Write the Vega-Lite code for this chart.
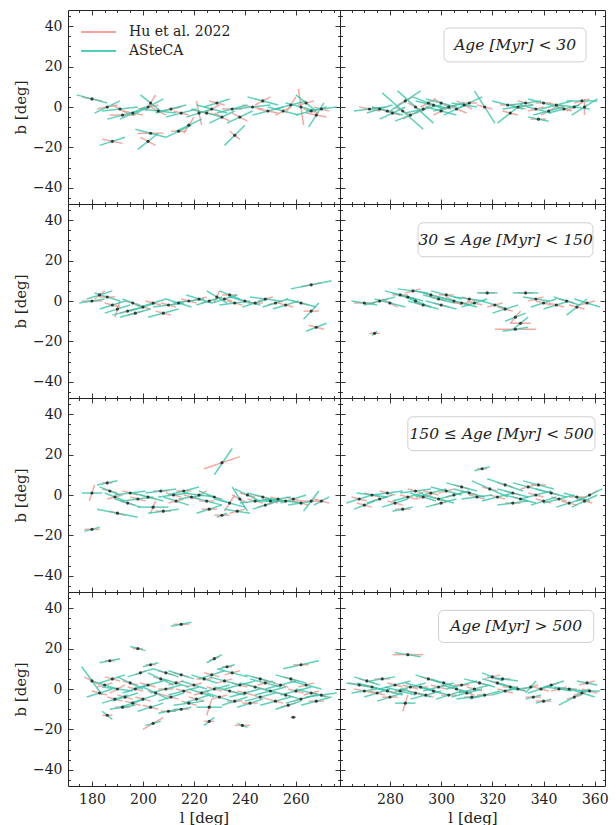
{
"$schema": "https://vega.github.io/schema/vega-lite/v6.json",
"background": "white",
"padding": {"left": 12, "top": 9, "right": 6, "bottom": 3},
"config": {
 "view": {"stroke": "#222", "strokeWidth": 1},
 "font": "DejaVu Serif",
 "axis": {"domain": false, "grid": false, "tickColor": "#222", "tickSize": -5, "tickWidth": 0.9, "labelFont": "DejaVu Serif", "labelFontSize": 14, "labelColor": "#222", "labelPadding": 11, "labelFlush": false, "labelOverlap": false, "titleFont": "DejaVu Serif", "titleFontSize": 15, "titleFontWeight": "normal", "titleColor": "#222", "titlePadding": 4},
 "legend": {"orient": "top-left", "offset": 10, "padding": 0, "symbolType": "M-0.82,0H2.41", "symbolSize": 470, "symbolStrokeWidth": 2, "symbolOpacity": 0.85, "labelFont": "DejaVu Serif", "labelFontSize": 14, "labelColor": "#222", "labelOffset": 27, "rowPadding": 0}
},
"datasets": {"d": [
{"p":1,"l":180,"b":4,"hx":176,"hy":5,"hX":184,"hY":3,"ax":174,"ay":6,"aX":186,"aY":2},
{"p":1,"l":186,"b":0,"hx":182,"hy":-1,"hX":190,"hY":1,"ax":181,"ay":-3,"aX":191,"aY":3},
{"p":1,"l":191,"b":-1,"hx":188,"hy":1,"hX":194,"hY":-3,"ax":184,"ay":-2,"aX":198,"aY":0},
{"p":1,"l":192,"b":-4,"hx":187,"hy":-4,"hX":197,"hY":-4,"ax":186,"ay":-6,"aX":198,"aY":-2},
{"p":1,"l":196,"b":-3,"hx":192,"hy":-2,"hX":200,"hY":-4,"ax":191,"ay":-6,"aX":201,"aY":0},
{"p":1,"l":202,"b":0,"hx":198,"hy":-1,"hX":206,"hY":1,"ax":196,"ay":-4,"aX":208,"aY":4},
{"p":1,"l":203,"b":2,"hx":201,"hy":-2,"hX":205,"hY":6,"ax":199,"ay":6,"aX":207,"aY":-2},
{"p":1,"l":206,"b":-2,"hx":203,"hy":0,"hX":209,"hY":-4,"ax":199,"ay":-1,"aX":213,"aY":-3},
{"p":1,"l":211,"b":-1,"hx":207,"hy":-2,"hX":215,"hY":0,"ax":205,"ay":-3,"aX":217,"aY":1},
{"p":1,"l":203,"b":-13,"hx":198,"hy":-13,"hX":208,"hY":-13,"ax":197,"ay":-11,"aX":209,"aY":-15},
{"p":1,"l":202,"b":-17,"hx":199,"hy":-15,"hX":205,"hY":-19,"ax":198,"ay":-21,"aX":206,"aY":-13},
{"p":1,"l":188,"b":-17,"hx":184,"hy":-16,"hX":192,"hY":-18,"ax":183,"ay":-19,"aX":193,"aY":-15},
{"p":1,"l":214,"b":-12,"hx":211,"hy":-12,"hX":217,"hY":-12,"ax":209,"ay":-15,"aX":219,"aY":-9},
{"p":1,"l":218,"b":-9,"hx":216,"hy":-13,"hX":220,"hY":-5,"ax":213,"ay":-12,"aX":223,"aY":-6},
{"p":1,"l":222,"b":-3,"hx":221,"hy":3,"hX":223,"hY":-9,"ax":217,"ay":-5,"aX":227,"aY":-1},
{"p":1,"l":225,"b":-3,"hx":221,"hy":-2,"hX":229,"hY":-4,"ax":219,"ay":-1,"aX":231,"aY":-5},
{"p":1,"l":229,"b":2,"hx":226,"hy":3,"hX":232,"hY":1,"ax":224,"ay":0,"aX":234,"aY":4},
{"p":1,"l":231,"b":-5,"hx":228,"hy":-3,"hX":234,"hY":-7,"ax":226,"ay":-8,"aX":236,"aY":-2},
{"p":1,"l":236,"b":-14,"hx":234,"hy":-12,"hX":238,"hY":-16,"ax":232,"ay":-19,"aX":240,"aY":-9},
{"p":1,"l":235,"b":-1,"hx":231,"hy":-1,"hX":239,"hY":-1,"ax":229,"ay":-3,"aX":241,"aY":1},
{"p":1,"l":238,"b":-5,"hx":235,"hy":-3,"hX":241,"hY":-7,"ax":233,"ay":-8,"aX":243,"aY":-2},
{"p":1,"l":243,"b":0,"hx":239,"hy":1,"hX":247,"hY":-1,"ax":236,"ay":-1,"aX":250,"aY":1},
{"p":1,"l":247,"b":3,"hx":244,"hy":1,"hX":250,"hY":5,"ax":241,"ay":5,"aX":253,"aY":1},
{"p":1,"l":249,"b":-2,"hx":245,"hy":-1,"hX":253,"hY":-3,"ax":243,"ay":-4,"aX":255,"aY":0},
{"p":1,"l":255,"b":-2,"hx":252,"hy":-4,"hX":258,"hY":0,"ax":249,"ay":0,"aX":261,"aY":-4},
{"p":1,"l":258,"b":1,"hx":256,"hy":-3,"hX":260,"hY":5,"ax":252,"ay":-1,"aX":264,"aY":3},
{"p":1,"l":262,"b":0,"hx":261,"hy":9,"hX":263,"hY":-9,"ax":256,"ay":2,"aX":268,"aY":-2},
{"p":1,"l":264,"b":2,"hx":261,"hy":1,"hX":267,"hY":3,"ax":260,"ay":6,"aX":268,"aY":-2},
{"p":1,"l":266,"b":-2,"hx":263,"hy":-1,"hX":269,"hY":-3,"ax":260,"ay":-4,"aX":272,"aY":0},
{"p":1,"l":268,"b":-4,"hx":264,"hy":-3,"hX":272,"hY":-5,"ax":265,"ay":-10,"aX":271,"aY":2},
{"p":1,"l":270,"b":-1,"hx":267,"hy":0,"hX":273,"hY":-2,"ax":264,"ay":-2,"aX":276,"aY":0},
{"p":1,"l":227,"b":-1,"hx":224,"hy":-3,"hX":230,"hY":1,"ax":221,"ay":1,"aX":233,"aY":-3},
{"p":1,"l":215,"b":-3,"hx":212,"hy":-2,"hX":218,"hY":-4,"ax":209,"ay":-5,"aX":221,"aY":-1},
{"p":2,"l":272,"b":-1,"hx":268,"hy":0,"hX":276,"hY":-2,"ax":266,"ay":-2,"aX":278,"aY":0},
{"p":2,"l":279,"b":-2,"hx":276,"hy":-1,"hX":282,"hY":-3,"ax":273,"ay":0,"aX":285,"aY":-4},
{"p":2,"l":285,"b":-2,"hx":282,"hy":0,"hX":288,"hY":-4,"ax":277,"ay":7,"aX":293,"aY":-11},
{"p":2,"l":290,"b":0,"hx":287,"hy":2,"hX":293,"hY":-2,"ax":283,"ay":8,"aX":297,"aY":-8},
{"p":2,"l":281,"b":-3,"hx":278,"hy":-2,"hX":284,"hY":-4,"ax":276,"ay":-6,"aX":286,"aY":0},
{"p":2,"l":293,"b":-1,"hx":290,"hy":-3,"hX":296,"hY":1,"ax":286,"ay":-3,"aX":300,"aY":1},
{"p":2,"l":297,"b":1,"hx":294,"hy":2,"hX":300,"hY":0,"ax":290,"ay":3,"aX":304,"aY":-1},
{"p":2,"l":300,"b":2,"hx":297,"hy":4,"hX":303,"hY":0,"ax":294,"ay":4,"aX":306,"aY":0},
{"p":2,"l":303,"b":0,"hx":300,"hy":-1,"hX":306,"hY":1,"ax":297,"ay":-2,"aX":309,"aY":2},
{"p":2,"l":306,"b":-1,"hx":302,"hy":1,"hX":310,"hY":-3,"ax":301,"ay":-4,"aX":311,"aY":2},
{"p":2,"l":309,"b":1,"hx":306,"hy":3,"hX":312,"hY":-1,"ax":304,"ay":2,"aX":314,"aY":0},
{"p":2,"l":311,"b":2,"hx":308,"hy":2,"hX":314,"hY":2,"ax":306,"ay":-1,"aX":316,"aY":5},
{"p":2,"l":317,"b":0,"hx":314,"hy":1,"hX":320,"hY":-1,"ax":313,"ay":8,"aX":321,"aY":-8},
{"p":2,"l":327,"b":-3,"hx":324,"hy":-2,"hX":330,"hY":-4,"ax":322,"ay":-8,"aX":332,"aY":2},
{"p":2,"l":330,"b":0,"hx":327,"hy":1,"hX":333,"hY":-1,"ax":324,"ay":-1,"aX":336,"aY":1},
{"p":2,"l":333,"b":2,"hx":330,"hy":3,"hX":336,"hY":1,"ax":327,"ay":1,"aX":339,"aY":3},
{"p":2,"l":337,"b":-1,"hx":334,"hy":-2,"hX":340,"hY":0,"ax":331,"ay":1,"aX":343,"aY":-3},
{"p":2,"l":338,"b":-6,"hx":335,"hy":-6,"hX":341,"hY":-6,"ax":334,"ay":-5,"aX":342,"aY":-7},
{"p":2,"l":342,"b":-2,"hx":339,"hy":-4,"hX":345,"hY":0,"ax":336,"ay":-4,"aX":348,"aY":0},
{"p":2,"l":345,"b":1,"hx":342,"hy":2,"hX":348,"hY":0,"ax":339,"ay":-1,"aX":351,"aY":3},
{"p":2,"l":348,"b":-1,"hx":345,"hy":0,"hX":351,"hY":-2,"ax":342,"ay":-3,"aX":354,"aY":1},
{"p":2,"l":352,"b":0,"hx":349,"hy":-2,"hX":355,"hY":2,"ax":346,"ay":1,"aX":358,"aY":-1},
{"p":2,"l":355,"b":3,"hx":352,"hy":2,"hX":358,"hY":4,"ax":349,"ay":3,"aX":361,"aY":3},
{"p":2,"l":356,"b":0,"hx":356,"hy":-4,"hX":356,"hY":4,"ax":351,"ay":-4,"aX":361,"aY":4},
{"p":2,"l":276,"b":-1,"hx":273,"hy":0,"hX":279,"hY":-2,"ax":271,"ay":-3,"aX":281,"aY":1},
{"p":2,"l":288,"b":-4,"hx":285,"hy":-6,"hX":291,"hY":-2,"ax":282,"ay":-7,"aX":294,"aY":-1},
{"p":2,"l":295,"b":2,"hx":292,"hy":0,"hX":298,"hY":4,"ax":289,"ay":5,"aX":301,"aY":-1},
{"p":2,"l":300,"b":-2,"hx":297,"hy":-4,"hX":303,"hY":0,"ax":294,"ay":0,"aX":306,"aY":-4},
{"p":2,"l":340,"b":2,"hx":337,"hy":2,"hX":343,"hY":2,"ax":334,"ay":4,"aX":346,"aY":0},
{"p":2,"l":326,"b":1,"hx":323,"hy":1,"hX":329,"hY":1,"ax":320,"ay":3,"aX":332,"aY":-1},
{"p":2,"l":286,"b":3,"hx":283,"hy":1,"hX":289,"hY":5,"ax":280,"ay":-2,"aX":292,"aY":8},
{"p":3,"l":180,"b":0,"hx":176,"hy":0,"hX":184,"hY":0,"ax":175,"ay":-1,"aX":185,"aY":1},
{"p":3,"l":183,"b":3,"hx":181,"hy":1,"hX":185,"hY":5,"ax":178,"ay":1,"aX":188,"aY":5},
{"p":3,"l":186,"b":2,"hx":183,"hy":2,"hX":189,"hY":2,"ax":181,"ay":4,"aX":191,"aY":0},
{"p":3,"l":188,"b":-2,"hx":185,"hy":-1,"hX":191,"hY":-3,"ax":183,"ay":-4,"aX":193,"aY":0},
{"p":3,"l":190,"b":-4,"hx":189,"hy":-8,"hX":191,"hY":0,"ax":185,"ay":-6,"aX":195,"aY":-2},
{"p":3,"l":194,"b":-5,"hx":191,"hy":-6,"hX":197,"hY":-4,"ax":188,"ay":-7,"aX":200,"aY":-3},
{"p":3,"l":197,"b":-6,"hx":194,"hy":-7,"hX":200,"hY":-5,"ax":191,"ay":-8,"aX":203,"aY":-4},
{"p":3,"l":200,"b":-3,"hx":197,"hy":-2,"hX":203,"hY":-4,"ax":195,"ay":-5,"aX":205,"aY":-1},
{"p":3,"l":204,"b":-1,"hx":201,"hy":0,"hX":207,"hY":-2,"ax":199,"ay":-3,"aX":209,"aY":1},
{"p":3,"l":210,"b":-2,"hx":207,"hy":-1,"hX":213,"hY":-3,"ax":204,"ay":-3,"aX":216,"aY":-1},
{"p":3,"l":214,"b":-1,"hx":211,"hy":-2,"hX":217,"hY":0,"ax":209,"ay":1,"aX":219,"aY":-3},
{"p":3,"l":218,"b":0,"hx":215,"hy":1,"hX":221,"hY":-1,"ax":212,"ay":-1,"aX":224,"aY":1},
{"p":3,"l":222,"b":1,"hx":219,"hy":0,"hX":225,"hY":2,"ax":217,"ay":3,"aX":227,"aY":-1},
{"p":3,"l":226,"b":0,"hx":223,"hy":-1,"hX":229,"hY":1,"ax":221,"ay":-2,"aX":231,"aY":2},
{"p":3,"l":229,"b":2,"hx":228,"hy":-1,"hX":230,"hY":5,"ax":225,"ay":5,"aX":233,"aY":-1},
{"p":3,"l":232,"b":1,"hx":229,"hy":2,"hX":235,"hY":0,"ax":227,"ay":-1,"aX":237,"aY":3},
{"p":3,"l":236,"b":-1,"hx":233,"hy":0,"hX":239,"hY":-2,"ax":230,"ay":-2,"aX":242,"aY":0},
{"p":3,"l":240,"b":0,"hx":237,"hy":1,"hX":243,"hY":-1,"ax":234,"ay":2,"aX":246,"aY":-2},
{"p":3,"l":244,"b":-1,"hx":241,"hy":-1,"hX":247,"hY":-1,"ax":239,"ay":-3,"aX":249,"aY":1},
{"p":3,"l":248,"b":1,"hx":245,"hy":0,"hX":251,"hY":2,"ax":242,"ay":2,"aX":254,"aY":0},
{"p":3,"l":252,"b":-1,"hx":249,"hy":-2,"hX":255,"hY":0,"ax":247,"ay":-3,"aX":257,"aY":1},
{"p":3,"l":256,"b":-2,"hx":253,"hy":-1,"hX":259,"hY":-3,"ax":251,"ay":-4,"aX":261,"aY":0},
{"p":3,"l":266,"b":8,"hx":262,"hy":7,"hX":270,"hY":9,"ax":258,"ay":6,"aX":274,"aY":10},
{"p":3,"l":262,"b":-1,"hx":259,"hy":0,"hX":265,"hY":-2,"ax":256,"ay":1,"aX":268,"aY":-3},
{"p":3,"l":266,"b":-5,"hx":263,"hy":-5,"hX":269,"hY":-5,"ax":263,"ay":-9,"aX":269,"aY":-1},
{"p":3,"l":268,"b":-13,"hx":265,"hy":-12,"hX":271,"hY":-14,"ax":264,"ay":-15,"aX":272,"aY":-11},
{"p":3,"l":234,"b":3,"hx":231,"hy":3,"hX":237,"hY":3,"ax":230,"ay":5,"aX":238,"aY":1},
{"p":3,"l":208,"b":-6,"hx":205,"hy":-5,"hX":211,"hY":-7,"ax":202,"ay":-8,"aX":214,"aY":-4},
{"p":3,"l":196,"b":-1,"hx":193,"hy":0,"hX":199,"hY":-2,"ax":192,"ay":1,"aX":200,"aY":-3},
{"p":4,"l":274,"b":-16,"hx":272,"hy":-16,"hX":276,"hY":-16,"ax":273,"ay":-17,"aX":275,"aY":-15},
{"p":4,"l":270,"b":-1,"hx":266,"hy":-1,"hX":274,"hY":-1,"ax":265,"ay":0,"aX":275,"aY":-2},
{"p":4,"l":276,"b":0,"hx":273,"hy":-1,"hX":279,"hY":1,"ax":270,"ay":-2,"aX":282,"aY":2},
{"p":4,"l":280,"b":-1,"hx":277,"hy":1,"hX":283,"hY":-3,"ax":274,"ay":1,"aX":286,"aY":-3},
{"p":4,"l":284,"b":3,"hx":281,"hy":3,"hX":287,"hY":3,"ax":278,"ay":5,"aX":290,"aY":1},
{"p":4,"l":287,"b":2,"hx":284,"hy":3,"hX":290,"hY":1,"ax":281,"ay":4,"aX":293,"aY":0},
{"p":4,"l":290,"b":0,"hx":287,"hy":2,"hX":293,"hY":-2,"ax":284,"ay":3,"aX":296,"aY":-3},
{"p":4,"l":293,"b":-2,"hx":290,"hy":-1,"hX":296,"hY":-3,"ax":287,"ay":0,"aX":299,"aY":-4},
{"p":4,"l":296,"b":3,"hx":293,"hy":4,"hX":299,"hY":2,"ax":290,"ay":5,"aX":302,"aY":1},
{"p":4,"l":299,"b":1,"hx":296,"hy":2,"hX":302,"hY":0,"ax":293,"ay":3,"aX":305,"aY":-1},
{"p":4,"l":302,"b":3,"hx":299,"hy":3,"hX":305,"hY":3,"ax":296,"ay":5,"aX":308,"aY":1},
{"p":4,"l":305,"b":0,"hx":302,"hy":2,"hX":308,"hY":-2,"ax":299,"ay":2,"aX":311,"aY":-2},
{"p":4,"l":308,"b":-1,"hx":305,"hy":-1,"hX":311,"hY":-1,"ax":302,"ay":1,"aX":314,"aY":-3},
{"p":4,"l":311,"b":1,"hx":308,"hy":2,"hX":314,"hY":0,"ax":305,"ay":2,"aX":317,"aY":0},
{"p":4,"l":313,"b":-1,"hx":310,"hy":0,"hX":316,"hY":-2,"ax":308,"ay":-3,"aX":318,"aY":1},
{"p":4,"l":318,"b":4,"hx":315,"hy":4,"hX":321,"hY":4,"ax":314,"ay":4,"aX":322,"aY":4},
{"p":4,"l":321,"b":-2,"hx":318,"hy":-3,"hX":324,"hY":-1,"ax":316,"ay":0,"aX":326,"aY":-4},
{"p":4,"l":325,"b":-4,"hx":322,"hy":-3,"hX":328,"hY":-5,"ax":320,"ay":-6,"aX":330,"aY":-2},
{"p":4,"l":329,"b":-8,"hx":327,"hy":-11,"hX":331,"hY":-5,"ax":325,"ay":-10,"aX":333,"aY":-6},
{"p":4,"l":331,"b":-11,"hx":327,"hy":-11,"hX":335,"hY":-11,"ax":328,"ay":-14,"aX":334,"aY":-8},
{"p":4,"l":329,"b":-14,"hx":321,"hy":-14,"hX":337,"hY":-14,"ax":324,"ay":-15,"aX":334,"aY":-13},
{"p":4,"l":333,"b":4,"hx":330,"hy":4,"hX":336,"hY":4,"ax":328,"ay":4,"aX":338,"aY":4},
{"p":4,"l":337,"b":1,"hx":334,"hy":0,"hX":340,"hY":2,"ax":332,"ay":2,"aX":342,"aY":0},
{"p":4,"l":340,"b":-1,"hx":337,"hy":0,"hX":343,"hY":-2,"ax":335,"ay":-3,"aX":345,"aY":1},
{"p":4,"l":345,"b":-2,"hx":342,"hy":-1,"hX":348,"hY":-3,"ax":340,"ay":-4,"aX":350,"aY":0},
{"p":4,"l":349,"b":0,"hx":346,"hy":1,"hX":352,"hY":-1,"ax":344,"ay":2,"aX":354,"aY":-2},
{"p":4,"l":353,"b":-3,"hx":350,"hy":-2,"hX":356,"hY":-4,"ax":349,"ay":-7,"aX":357,"aY":1},
{"p":4,"l":357,"b":-1,"hx":354,"hy":-2,"hX":360,"hY":0,"ax":352,"ay":1,"aX":362,"aY":-3},
{"p":4,"l":300,"b":-2,"hx":297,"hy":-1,"hX":303,"hY":-3,"ax":294,"ay":0,"aX":306,"aY":-4},
{"p":4,"l":289,"b":5,"hx":286,"hy":4,"hX":292,"hY":6,"ax":283,"ay":6,"aX":295,"aY":4},
{"p":5,"l":180,"b":1,"hx":179,"hy":-3,"hX":181,"hY":5,"ax":176,"ay":1,"aX":184,"aY":1},
{"p":5,"l":180,"b":-17,"hx":177,"hy":-17,"hX":183,"hY":-17,"ax":177,"ay":-18,"aX":183,"aY":-16},
{"p":5,"l":186,"b":6,"hx":184,"hy":6,"hX":188,"hY":6,"ax":182,"ay":5,"aX":190,"aY":7},
{"p":5,"l":187,"b":2,"hx":184,"hy":3,"hX":190,"hY":1,"ax":183,"ay":4,"aX":191,"aY":0},
{"p":5,"l":189,"b":-1,"hx":186,"hy":-2,"hX":192,"hY":0,"ax":185,"ay":1,"aX":193,"aY":-3},
{"p":5,"l":190,"b":-9,"hx":187,"hy":-8,"hX":193,"hY":-10,"ax":182,"ay":-7,"aX":198,"aY":-11},
{"p":5,"l":194,"b":-4,"hx":191,"hy":-3,"hX":197,"hY":-5,"ax":189,"ay":-2,"aX":199,"aY":-6},
{"p":5,"l":198,"b":-2,"hx":195,"hy":-1,"hX":201,"hY":-3,"ax":192,"ay":-3,"aX":204,"aY":-1},
{"p":5,"l":202,"b":-1,"hx":199,"hy":0,"hX":205,"hY":-2,"ax":196,"ay":1,"aX":208,"aY":-3},
{"p":5,"l":204,"b":-6,"hx":203,"hy":-9,"hX":205,"hY":-3,"ax":198,"ay":-6,"aX":210,"aY":-6},
{"p":5,"l":208,"b":-8,"hx":205,"hy":-8,"hX":211,"hY":-8,"ax":202,"ay":-9,"aX":214,"aY":-7},
{"p":5,"l":207,"b":2,"hx":204,"hy":2,"hX":210,"hY":2,"ax":201,"ay":1,"aX":213,"aY":3},
{"p":5,"l":212,"b":0,"hx":209,"hy":1,"hX":215,"hY":-1,"ax":206,"ay":-1,"aX":218,"aY":1},
{"p":5,"l":216,"b":2,"hx":213,"hy":2,"hX":219,"hY":2,"ax":210,"ay":0,"aX":222,"aY":4},
{"p":5,"l":219,"b":-1,"hx":216,"hy":0,"hX":222,"hY":-2,"ax":214,"ay":-2,"aX":224,"aY":0},
{"p":5,"l":222,"b":0,"hx":219,"hy":-2,"hX":225,"hY":2,"ax":216,"ay":1,"aX":228,"aY":-1},
{"p":5,"l":225,"b":-3,"hx":222,"hy":-3,"hX":228,"hY":-3,"ax":219,"ay":-1,"aX":231,"aY":-5},
{"p":5,"l":228,"b":-1,"hx":225,"hy":0,"hX":231,"hY":-2,"ax":222,"ay":2,"aX":234,"aY":-4},
{"p":5,"l":231,"b":16,"hx":224,"hy":13,"hX":238,"hY":19,"ax":228,"ay":10,"aX":235,"aY":23},
{"p":5,"l":231,"b":-10,"hx":228,"hy":-10,"hX":234,"hY":-10,"ax":229,"ay":-11,"aX":233,"aY":-9},
{"p":5,"l":234,"b":-4,"hx":232,"hy":-8,"hX":236,"hY":0,"ax":228,"ay":-2,"aX":240,"aY":-6},
{"p":5,"l":237,"b":-8,"hx":234,"hy":-9,"hX":240,"hY":-7,"ax":232,"ay":-7,"aX":242,"aY":-9},
{"p":5,"l":238,"b":-2,"hx":235,"hy":0,"hX":241,"hY":-4,"ax":235,"ay":4,"aX":241,"aY":-8},
{"p":5,"l":241,"b":0,"hx":238,"hy":1,"hX":244,"hY":-1,"ax":236,"ay":3,"aX":246,"aY":-3},
{"p":5,"l":244,"b":-3,"hx":241,"hy":-2,"hX":247,"hY":-4,"ax":238,"ay":-4,"aX":250,"aY":-2},
{"p":5,"l":247,"b":-1,"hx":244,"hy":0,"hX":250,"hY":-2,"ax":241,"ay":1,"aX":253,"aY":-3},
{"p":5,"l":250,"b":-3,"hx":247,"hy":-2,"hX":253,"hY":-4,"ax":244,"ay":-3,"aX":256,"aY":-3},
{"p":5,"l":253,"b":-2,"hx":250,"hy":-1,"hX":256,"hY":-3,"ax":248,"ay":-3,"aX":258,"aY":-1},
{"p":5,"l":256,"b":-3,"hx":253,"hy":-3,"hX":259,"hY":-3,"ax":250,"ay":-2,"aX":262,"aY":-4},
{"p":5,"l":259,"b":-2,"hx":256,"hy":-1,"hX":262,"hY":-3,"ax":254,"ay":-4,"aX":264,"aY":0},
{"p":5,"l":262,"b":-4,"hx":259,"hy":-3,"hX":265,"hY":-5,"ax":257,"ay":-5,"aX":267,"aY":-3},
{"p":5,"l":266,"b":-3,"hx":262,"hy":-3,"hX":270,"hY":-3,"ax":263,"ay":-8,"aX":269,"aY":2},
{"p":5,"l":270,"b":-3,"hx":267,"hy":-2,"hX":273,"hY":-4,"ax":267,"ay":-5,"aX":273,"aY":-1},
{"p":5,"l":226,"b":-7,"hx":223,"hy":-7,"hX":229,"hY":-7,"ax":221,"ay":-9,"aX":231,"aY":-5},
{"p":5,"l":195,"b":1,"hx":192,"hy":2,"hX":198,"hY":0,"ax":189,"ay":0,"aX":201,"aY":2},
{"p":5,"l":213,"b":-3,"hx":210,"hy":-4,"hX":216,"hY":-2,"ax":208,"ay":-1,"aX":218,"aY":-5},
{"p":5,"l":248,"b":-5,"hx":245,"hy":-6,"hX":251,"hY":-4,"ax":243,"ay":-7,"aX":253,"aY":-3},
{"p":6,"l":268,"b":-2,"hx":265,"hy":-1,"hX":271,"hY":-3,"ax":263,"ay":-4,"aX":273,"aY":0},
{"p":6,"l":270,"b":-5,"hx":267,"hy":-4,"hX":273,"hY":-6,"ax":266,"ay":-7,"aX":274,"aY":-3},
{"p":6,"l":273,"b":0,"hx":270,"hy":1,"hX":276,"hY":-1,"ax":267,"ay":1,"aX":279,"aY":-1},
{"p":6,"l":276,"b":-2,"hx":273,"hy":-3,"hX":279,"hY":-1,"ax":271,"ay":-4,"aX":281,"aY":0},
{"p":6,"l":279,"b":1,"hx":276,"hy":2,"hX":282,"hY":0,"ax":273,"ay":0,"aX":285,"aY":2},
{"p":6,"l":282,"b":-4,"hx":279,"hy":-3,"hX":285,"hY":-5,"ax":277,"ay":-6,"aX":287,"aY":-2},
{"p":6,"l":285,"b":-7,"hx":282,"hy":-7,"hX":288,"hY":-7,"ax":281,"ay":-8,"aX":289,"aY":-6},
{"p":6,"l":287,"b":-1,"hx":284,"hy":0,"hX":290,"hY":-2,"ax":281,"ay":-3,"aX":293,"aY":1},
{"p":6,"l":290,"b":2,"hx":287,"hy":3,"hX":293,"hY":1,"ax":284,"ay":1,"aX":296,"aY":3},
{"p":6,"l":293,"b":-1,"hx":290,"hy":-2,"hX":296,"hY":0,"ax":288,"ay":1,"aX":298,"aY":-3},
{"p":6,"l":296,"b":1,"hx":293,"hy":2,"hX":299,"hY":0,"ax":290,"ay":-1,"aX":302,"aY":3},
{"p":6,"l":299,"b":-2,"hx":296,"hy":-1,"hX":302,"hY":-3,"ax":293,"ay":0,"aX":305,"aY":-4},
{"p":6,"l":302,"b":2,"hx":299,"hy":1,"hX":305,"hY":3,"ax":296,"ay":4,"aX":308,"aY":0},
{"p":6,"l":305,"b":0,"hx":302,"hy":-1,"hX":308,"hY":1,"ax":299,"ay":-2,"aX":311,"aY":2},
{"p":6,"l":308,"b":4,"hx":305,"hy":5,"hX":311,"hY":3,"ax":302,"ay":6,"aX":314,"aY":2},
{"p":6,"l":311,"b":1,"hx":308,"hy":2,"hX":314,"hY":0,"ax":305,"ay":3,"aX":317,"aY":-1},
{"p":6,"l":314,"b":-1,"hx":311,"hy":0,"hX":317,"hY":-2,"ax":308,"ay":-2,"aX":320,"aY":0},
{"p":6,"l":316,"b":13,"hx":314,"hy":13,"hX":318,"hY":13,"ax":313,"ay":12,"aX":319,"aY":14},
{"p":6,"l":319,"b":3,"hx":316,"hy":4,"hX":322,"hY":2,"ax":312,"ay":7,"aX":326,"aY":-1},
{"p":6,"l":322,"b":-1,"hx":319,"hy":0,"hX":325,"hY":-2,"ax":316,"ay":-3,"aX":328,"aY":1},
{"p":6,"l":325,"b":5,"hx":322,"hy":6,"hX":328,"hY":4,"ax":318,"ay":8,"aX":332,"aY":2},
{"p":6,"l":328,"b":1,"hx":325,"hy":2,"hX":331,"hY":0,"ax":322,"ay":3,"aX":334,"aY":-1},
{"p":6,"l":331,"b":-2,"hx":328,"hy":-1,"hX":334,"hY":-3,"ax":325,"ay":0,"aX":337,"aY":-4},
{"p":6,"l":334,"b":4,"hx":331,"hy":3,"hX":337,"hY":5,"ax":328,"ay":6,"aX":340,"aY":2},
{"p":6,"l":337,"b":0,"hx":334,"hy":1,"hX":340,"hY":-1,"ax":331,"ay":-2,"aX":343,"aY":2},
{"p":6,"l":340,"b":-3,"hx":337,"hy":-2,"hX":343,"hY":-4,"ax":335,"ay":-5,"aX":345,"aY":-1},
{"p":6,"l":343,"b":1,"hx":340,"hy":2,"hX":346,"hY":0,"ax":337,"ay":3,"aX":349,"aY":-1},
{"p":6,"l":346,"b":-2,"hx":343,"hy":-1,"hX":349,"hY":-3,"ax":340,"ay":-4,"aX":352,"aY":0},
{"p":6,"l":350,"b":-4,"hx":347,"hy":-3,"hX":353,"hY":-5,"ax":345,"ay":-6,"aX":355,"aY":-2},
{"p":6,"l":353,"b":-1,"hx":350,"hy":-1,"hX":356,"hY":-1,"ax":348,"ay":1,"aX":358,"aY":-3},
{"p":6,"l":356,"b":-3,"hx":353,"hy":-2,"hX":359,"hY":-4,"ax":351,"ay":-6,"aX":361,"aY":0},
{"p":6,"l":358,"b":0,"hx":355,"hy":-2,"hX":361,"hY":2,"ax":353,"ay":-3,"aX":363,"aY":3},
{"p":6,"l":328,"b":-4,"hx":325,"hy":-4,"hX":331,"hY":-4,"ax":322,"ay":-5,"aX":334,"aY":-3},
{"p":6,"l":338,"b":5,"hx":335,"hy":5,"hX":341,"hY":5,"ax":332,"ay":7,"aX":344,"aY":3},
{"p":6,"l":300,"b":-4,"hx":297,"hy":-5,"hX":303,"hY":-3,"ax":294,"ay":-6,"aX":306,"aY":-2},
{"p":7,"l":215,"b":32,"hx":212,"hy":32,"hX":218,"hY":32,"ax":211,"ay":31,"aX":219,"aY":33},
{"p":7,"l":198,"b":20,"hx":196,"hy":20,"hX":200,"hY":20,"ax":195,"ay":21,"aX":201,"aY":19},
{"p":7,"l":187,"b":14,"hx":185,"hy":14,"hX":189,"hY":14,"ax":183,"ay":13,"aX":191,"aY":15},
{"p":7,"l":203,"b":12,"hx":201,"hy":12,"hX":205,"hY":12,"ax":200,"ay":11,"aX":206,"aY":13},
{"p":7,"l":228,"b":15,"hx":226,"hy":14,"hX":230,"hY":16,"ax":225,"ay":13,"aX":231,"aY":17},
{"p":7,"l":233,"b":11,"hx":231,"hy":11,"hX":235,"hY":11,"ax":230,"ay":10,"aX":236,"aY":12},
{"p":7,"l":262,"b":12,"hx":259,"hy":12,"hX":265,"hY":12,"ax":255,"ay":10,"aX":269,"aY":14},
{"p":7,"l":186,"b":-13,"hx":184,"hy":-13,"hX":188,"hY":-13,"ax":184,"ay":-11,"aX":188,"aY":-15},
{"p":7,"l":204,"b":-17,"hx":200,"hy":-20,"hX":208,"hY":-14,"ax":201,"ay":-18,"aX":207,"aY":-16},
{"p":7,"l":226,"b":-16,"hx":224,"hy":-16,"hX":228,"hY":-16,"ax":224,"ay":-18,"aX":228,"aY":-14},
{"p":7,"l":239,"b":-18,"hx":236,"hy":-18,"hX":242,"hY":-18,"ax":237,"ay":-17,"aX":241,"aY":-19},
{"p":7,"l":259,"b":-14,"hx":258,"hy":-14,"hX":260,"hY":-14,"ax":258,"ay":-14,"aX":260,"aY":-14},
{"p":7,"l":192,"b":-9,"hx":189,"hy":-9,"hX":195,"hY":-9,"ax":187,"ay":-10,"aX":197,"aY":-8},
{"p":7,"l":210,"b":-11,"hx":207,"hy":-11,"hX":213,"hY":-11,"ax":206,"ay":-12,"aX":214,"aY":-10},
{"p":7,"l":215,"b":-10,"hx":212,"hy":-10,"hX":218,"hY":-10,"ax":211,"ay":-11,"aX":219,"aY":-9},
{"p":7,"l":180,"b":4,"hx":177,"hy":6,"hX":183,"hY":2,"ax":176,"ay":11,"aX":184,"aY":-3},
{"p":7,"l":183,"b":-2,"hx":180,"hy":-1,"hX":186,"hY":-3,"ax":178,"ay":-4,"aX":188,"aY":0},
{"p":7,"l":185,"b":2,"hx":182,"hy":1,"hX":188,"hY":3,"ax":180,"ay":4,"aX":190,"aY":0},
{"p":7,"l":188,"b":5,"hx":185,"hy":6,"hX":191,"hY":4,"ax":183,"ay":3,"aX":193,"aY":7},
{"p":7,"l":190,"b":0,"hx":187,"hy":-2,"hX":193,"hY":2,"ax":184,"ay":1,"aX":196,"aY":-1},
{"p":7,"l":193,"b":-4,"hx":190,"hy":-3,"hX":196,"hY":-5,"ax":188,"ay":-6,"aX":198,"aY":-2},
{"p":7,"l":195,"b":3,"hx":192,"hy":4,"hX":198,"hY":2,"ax":190,"ay":6,"aX":200,"aY":0},
{"p":7,"l":197,"b":0,"hx":194,"hy":1,"hX":200,"hY":-1,"ax":192,"ay":-2,"aX":202,"aY":2},
{"p":7,"l":199,"b":8,"hx":197,"hy":7,"hX":201,"hY":9,"ax":194,"ay":6,"aX":204,"aY":10},
{"p":7,"l":200,"b":-5,"hx":197,"hy":-4,"hX":203,"hY":-6,"ax":195,"ay":-7,"aX":205,"aY":-3},
{"p":7,"l":202,"b":2,"hx":199,"hy":3,"hX":205,"hY":1,"ax":196,"ay":0,"aX":208,"aY":4},
{"p":7,"l":205,"b":-2,"hx":202,"hy":-1,"hX":208,"hY":-3,"ax":200,"ay":1,"aX":210,"aY":-5},
{"p":7,"l":207,"b":5,"hx":204,"hy":6,"hX":210,"hY":4,"ax":202,"ay":8,"aX":212,"aY":2},
{"p":7,"l":209,"b":0,"hx":206,"hy":0,"hX":212,"hY":0,"ax":203,"ay":-2,"aX":215,"aY":2},
{"p":7,"l":211,"b":-4,"hx":208,"hy":-3,"hX":214,"hY":-5,"ax":206,"ay":-6,"aX":216,"aY":-2},
{"p":7,"l":213,"b":3,"hx":210,"hy":2,"hX":216,"hY":4,"ax":208,"ay":5,"aX":218,"aY":1},
{"p":7,"l":216,"b":-1,"hx":213,"hy":0,"hX":219,"hY":-2,"ax":210,"ay":-3,"aX":222,"aY":1},
{"p":7,"l":218,"b":-7,"hx":215,"hy":-6,"hX":221,"hY":-8,"ax":212,"ay":-8,"aX":224,"aY":-6},
{"p":7,"l":220,"b":2,"hx":217,"hy":1,"hX":223,"hY":3,"ax":215,"ay":4,"aX":225,"aY":0},
{"p":7,"l":223,"b":-2,"hx":220,"hy":-3,"hX":226,"hY":-1,"ax":218,"ay":0,"aX":228,"aY":-4},
{"p":7,"l":224,"b":5,"hx":221,"hy":5,"hX":227,"hY":5,"ax":219,"ay":7,"aX":229,"aY":3},
{"p":7,"l":226,"b":-9,"hx":225,"hy":-13,"hX":227,"hY":-5,"ax":221,"ay":-9,"aX":231,"aY":-9},
{"p":7,"l":228,"b":0,"hx":225,"hy":1,"hX":231,"hY":-1,"ax":222,"ay":-2,"aX":234,"aY":2},
{"p":7,"l":230,"b":-4,"hx":227,"hy":-5,"hX":233,"hY":-3,"ax":225,"ay":-2,"aX":235,"aY":-6},
{"p":7,"l":232,"b":4,"hx":229,"hy":3,"hX":235,"hY":5,"ax":226,"ay":6,"aX":238,"aY":2},
{"p":7,"l":234,"b":-1,"hx":231,"hy":0,"hX":237,"hY":-2,"ax":228,"ay":1,"aX":240,"aY":-3},
{"p":7,"l":236,"b":-6,"hx":233,"hy":-6,"hX":239,"hY":-6,"ax":231,"ay":-8,"aX":241,"aY":-4},
{"p":7,"l":238,"b":2,"hx":235,"hy":3,"hX":241,"hY":1,"ax":232,"ay":0,"aX":244,"aY":4},
{"p":7,"l":240,"b":-2,"hx":237,"hy":-1,"hX":243,"hY":-3,"ax":234,"ay":-4,"aX":246,"aY":0},
{"p":7,"l":242,"b":-7,"hx":239,"hy":-7,"hX":245,"hY":-7,"ax":237,"ay":-9,"aX":247,"aY":-5},
{"p":7,"l":244,"b":1,"hx":241,"hy":2,"hX":247,"hY":0,"ax":238,"ay":3,"aX":250,"aY":-1},
{"p":7,"l":246,"b":-4,"hx":243,"hy":-3,"hX":249,"hY":-5,"ax":240,"ay":-6,"aX":252,"aY":-2},
{"p":7,"l":248,"b":3,"hx":245,"hy":2,"hX":251,"hY":4,"ax":242,"ay":5,"aX":254,"aY":1},
{"p":7,"l":250,"b":-1,"hx":247,"hy":0,"hX":253,"hY":-2,"ax":244,"ay":-3,"aX":256,"aY":1},
{"p":7,"l":252,"b":-6,"hx":249,"hy":-5,"hX":255,"hY":-7,"ax":246,"ay":-8,"aX":258,"aY":-4},
{"p":7,"l":254,"b":2,"hx":251,"hy":3,"hX":257,"hY":1,"ax":248,"ay":0,"aX":260,"aY":4},
{"p":7,"l":256,"b":-3,"hx":253,"hy":-2,"hX":259,"hY":-4,"ax":250,"ay":-1,"aX":262,"aY":-5},
{"p":7,"l":258,"b":5,"hx":255,"hy":6,"hX":261,"hY":4,"ax":252,"ay":7,"aX":264,"aY":3},
{"p":7,"l":260,"b":-1,"hx":257,"hy":0,"hX":263,"hY":-2,"ax":254,"ay":-3,"aX":266,"aY":1},
{"p":7,"l":262,"b":-5,"hx":259,"hy":-6,"hX":265,"hY":-4,"ax":256,"ay":-7,"aX":268,"aY":-3},
{"p":7,"l":264,"b":2,"hx":261,"hy":1,"hX":267,"hY":3,"ax":258,"ay":4,"aX":270,"aY":0},
{"p":7,"l":266,"b":-2,"hx":263,"hy":-3,"hX":269,"hY":-1,"ax":260,"ay":0,"aX":272,"aY":-4},
{"p":7,"l":268,"b":-6,"hx":265,"hy":-6,"hX":271,"hY":-6,"ax":262,"ay":-8,"aX":274,"aY":-4},
{"p":7,"l":270,"b":-3,"hx":267,"hy":-2,"hX":273,"hY":-4,"ax":264,"ay":-4,"aX":276,"aY":-2},
{"p":7,"l":189,"b":-5,"hx":186,"hy":-4,"hX":192,"hY":-6,"ax":184,"ay":-7,"aX":194,"aY":-3},
{"p":7,"l":215,"b":7,"hx":212,"hy":8,"hX":218,"hY":6,"ax":210,"ay":9,"aX":220,"aY":5},
{"p":7,"l":235,"b":8,"hx":232,"hy":7,"hX":238,"hY":9,"ax":229,"ay":10,"aX":241,"aY":6},
{"p":7,"l":221,"b":-5,"hx":218,"hy":-4,"hX":224,"hY":-6,"ax":216,"ay":-7,"aX":226,"aY":-3},
{"p":7,"l":246,"b":5,"hx":243,"hy":6,"hX":249,"hY":4,"ax":240,"ay":7,"aX":252,"aY":3},
{"p":7,"l":257,"b":-8,"hx":254,"hy":-9,"hX":260,"hY":-7,"ax":252,"ay":-10,"aX":262,"aY":-6},
{"p":7,"l":203,"b":-9,"hx":200,"hy":-8,"hX":206,"hY":-10,"ax":198,"ay":-11,"aX":208,"aY":-7},
{"p":7,"l":196,"b":-7,"hx":193,"hy":-6,"hX":199,"hY":-8,"ax":191,"ay":-9,"aX":201,"aY":-5},
{"p":7,"l":209,"b":8,"hx":206,"hy":9,"hX":212,"hY":7,"ax":204,"ay":10,"aX":214,"aY":6},
{"p":7,"l":227,"b":7,"hx":224,"hy":8,"hX":230,"hY":6,"ax":222,"ay":5,"aX":232,"aY":9},
{"p":8,"l":287,"b":17,"hx":281,"hy":17,"hX":293,"hY":17,"ax":282,"ay":18,"aX":292,"aY":16},
{"p":8,"l":268,"b":2,"hx":264,"hy":3,"hX":272,"hY":1,"ax":263,"ay":3,"aX":273,"aY":1},
{"p":8,"l":271,"b":4,"hx":268,"hy":5,"hX":274,"hY":3,"ax":266,"ay":6,"aX":276,"aY":2},
{"p":8,"l":273,"b":1,"hx":270,"hy":2,"hX":276,"hY":0,"ax":267,"ay":3,"aX":279,"aY":-1},
{"p":8,"l":275,"b":-2,"hx":272,"hy":-1,"hX":278,"hY":-3,"ax":270,"ay":-4,"aX":280,"aY":0},
{"p":8,"l":277,"b":5,"hx":274,"hy":5,"hX":280,"hY":5,"ax":272,"ay":4,"aX":282,"aY":6},
{"p":8,"l":279,"b":-1,"hx":276,"hy":0,"hX":282,"hY":-2,"ax":273,"ay":1,"aX":285,"aY":-3},
{"p":8,"l":280,"b":-4,"hx":277,"hy":-4,"hX":283,"hY":-4,"ax":275,"ay":-6,"aX":285,"aY":-2},
{"p":8,"l":282,"b":2,"hx":279,"hy":3,"hX":285,"hY":1,"ax":276,"ay":0,"aX":288,"aY":4},
{"p":8,"l":284,"b":-1,"hx":281,"hy":-2,"hX":287,"hY":0,"ax":278,"ay":1,"aX":290,"aY":-3},
{"p":8,"l":286,"b":-7,"hx":285,"hy":-11,"hX":287,"hY":-3,"ax":282,"ay":-7,"aX":290,"aY":-7},
{"p":8,"l":288,"b":1,"hx":285,"hy":2,"hX":291,"hY":0,"ax":282,"ay":-1,"aX":294,"aY":3},
{"p":8,"l":290,"b":-2,"hx":287,"hy":-1,"hX":293,"hY":-3,"ax":284,"ay":0,"aX":296,"aY":-4},
{"p":8,"l":292,"b":1,"hx":289,"hy":1,"hX":295,"hY":1,"ax":286,"ay":3,"aX":298,"aY":-1},
{"p":8,"l":295,"b":5,"hx":292,"hy":6,"hX":298,"hY":4,"ax":290,"ay":7,"aX":300,"aY":3},
{"p":8,"l":297,"b":-1,"hx":294,"hy":0,"hX":300,"hY":-2,"ax":291,"ay":1,"aX":303,"aY":-3},
{"p":8,"l":299,"b":1,"hx":296,"hy":2,"hX":302,"hY":0,"ax":293,"ay":-1,"aX":305,"aY":3},
{"p":8,"l":301,"b":3,"hx":298,"hy":4,"hX":304,"hY":2,"ax":296,"ay":5,"aX":306,"aY":1},
{"p":8,"l":303,"b":-3,"hx":300,"hy":-3,"hX":306,"hY":-3,"ax":298,"ay":-5,"aX":308,"aY":-1},
{"p":8,"l":306,"b":0,"hx":303,"hy":1,"hX":309,"hY":-1,"ax":300,"ay":2,"aX":312,"aY":-2},
{"p":8,"l":308,"b":2,"hx":305,"hy":2,"hX":311,"hY":2,"ax":302,"ay":0,"aX":314,"aY":4},
{"p":8,"l":310,"b":-2,"hx":307,"hy":-1,"hX":313,"hY":-3,"ax":304,"ay":-4,"aX":316,"aY":0},
{"p":8,"l":313,"b":0,"hx":310,"hy":1,"hX":316,"hY":-1,"ax":307,"ay":-2,"aX":319,"aY":2},
{"p":8,"l":315,"b":3,"hx":312,"hy":4,"hX":318,"hY":2,"ax":309,"ay":5,"aX":321,"aY":1},
{"p":8,"l":317,"b":-3,"hx":314,"hy":-3,"hX":320,"hY":-3,"ax":311,"ay":-5,"aX":323,"aY":-1},
{"p":8,"l":320,"b":6,"hx":317,"hy":5,"hX":323,"hY":7,"ax":316,"ay":8,"aX":324,"aY":4},
{"p":8,"l":322,"b":3,"hx":319,"hy":4,"hX":325,"hY":2,"ax":316,"ay":5,"aX":328,"aY":1},
{"p":8,"l":325,"b":-1,"hx":322,"hy":0,"hX":328,"hY":-2,"ax":320,"ay":-3,"aX":330,"aY":1},
{"p":8,"l":327,"b":1,"hx":324,"hy":1,"hX":330,"hY":1,"ax":321,"ay":3,"aX":333,"aY":-1},
{"p":8,"l":330,"b":0,"hx":327,"hy":1,"hX":333,"hY":-1,"ax":324,"ay":-1,"aX":336,"aY":1},
{"p":8,"l":335,"b":1,"hx":332,"hy":0,"hX":338,"hY":2,"ax":333,"ay":-2,"aX":337,"aY":4},
{"p":8,"l":336,"b":-4,"hx":333,"hy":-4,"hX":339,"hY":-4,"ax":333,"ay":-5,"aX":339,"aY":-3},
{"p":8,"l":339,"b":0,"hx":336,"hy":1,"hX":342,"hY":-1,"ax":334,"ay":-2,"aX":344,"aY":2},
{"p":8,"l":340,"b":-6,"hx":337,"hy":-6,"hX":343,"hY":-6,"ax":337,"ay":-7,"aX":343,"aY":-5},
{"p":8,"l":343,"b":2,"hx":340,"hy":1,"hX":346,"hY":3,"ax":338,"ay":0,"aX":348,"aY":4},
{"p":8,"l":346,"b":0,"hx":343,"hy":-1,"hX":349,"hY":1,"ax":341,"ay":1,"aX":351,"aY":-1},
{"p":8,"l":350,"b":0,"hx":347,"hy":0,"hX":353,"hY":0,"ax":344,"ay":1,"aX":356,"aY":-1},
{"p":8,"l":352,"b":-4,"hx":349,"hy":-5,"hX":355,"hY":-3,"ax":346,"ay":-8,"aX":358,"aY":0},
{"p":8,"l":355,"b":-2,"hx":352,"hy":-3,"hX":358,"hY":-1,"ax":350,"ay":0,"aX":360,"aY":-4},
{"p":8,"l":357,"b":3,"hx":354,"hy":2,"hX":360,"hY":4,"ax":353,"ay":4,"aX":361,"aY":2},
{"p":8,"l":358,"b":-1,"hx":355,"hy":0,"hX":361,"hY":-2,"ax":354,"ay":-1,"aX":362,"aY":-1},
{"p":8,"l":270,"b":-1,"hx":266,"hy":0,"hX":274,"hY":-2,"ax":265,"ay":-2,"aX":275,"aY":0},
{"p":8,"l":294,"b":-3,"hx":291,"hy":-2,"hX":297,"hY":-4,"ax":288,"ay":-5,"aX":300,"aY":-1},
{"p":8,"l":312,"b":-4,"hx":309,"hy":-4,"hX":315,"hY":-4,"ax":306,"ay":-5,"aX":318,"aY":-3},
{"p":8,"l":324,"b":5,"hx":321,"hy":5,"hX":327,"hY":5,"ax":318,"ay":6,"aX":330,"aY":4}
]},
"data": {"name": "d"},
"columns": 2,
"spacing": 0,
"bounds": "flush",
"concat": [
{"width": 272, "height": 194, "transform": [{"filter": "datum.p == 1"}], "resolve": {"axis": {"x": "independent", "y": "independent"}},
 "layer": [
  {"mark": {"type": "rule", "strokeWidth": 1.5, "opacity": 0.8, "clip": true},
   "encoding": {"x": {"field": "hx", "type": "quantitative", "scale": {"domain": [170.6, 277.3], "nice": false, "zero": false}, "axis": {"orient": "bottom", "values": [180,200,220,240,260], "labels": false, "title": null}},
    "x2": {"field": "hX"},
    "y": {"field": "hy", "type": "quantitative", "scale": {"domain": [-48, 48], "nice": false, "zero": false}, "axis": {"orient": "left", "values": [-40,-20,0,20,40], "title": "b [deg]"}},
    "y2": {"field": "hY"},
    "color": {"datum": "Hu et al. 2022", "type": "nominal", "scale": {"domain": ["Hu et al. 2022", "ASteCA"], "range": ["#f0938a", "#36c6aa"]}, "legend": {"title": null}}}},
  {"mark": {"type": "rule", "strokeWidth": 1.5, "opacity": 0.8, "clip": true},
   "encoding": {"x": {"field": "ax", "type": "quantitative", "axis": {"orient": "top", "values": [180,200,220,240,260], "labels": false, "title": null}},
    "x2": {"field": "aX"},
    "y": {"field": "ay", "type": "quantitative", "axis": {"orient": "right", "values": [-40,-20,0,20,40], "labels": false, "title": null}},
    "y2": {"field": "aY"},
    "color": {"datum": "ASteCA", "type": "nominal", "scale": {"domain": ["Hu et al. 2022", "ASteCA"], "range": ["#f0938a", "#36c6aa"]}, "legend": {"title": null}}}},
  {"mark": {"type": "circle", "size": 10, "color": "#2b2b2b", "opacity": 0.9, "clip": true},
   "encoding": {"x": {"field": "l", "type": "quantitative", "axis": {"orient": "bottom", "values": [175,185,190,195,205,210,215,225,230,235,245,250,255,265,270,275], "labels": false, "tickSize": -2.5, "title": null}},
    "y": {"field": "b", "type": "quantitative", "axis": {"orient": "left", "values": [-45,-35,-30,-25,-15,-10,-5,5,10,15,25,30,35,45], "labels": false, "tickSize": -2.5, "title": null}}}},
  {"mark": {"type": "circle", "opacity": 0},
   "encoding": {"x": {"field": "l", "type": "quantitative", "axis": {"orient": "top", "values": [175,185,190,195,205,210,215,225,230,235,245,250,255,265,270,275], "labels": false, "tickSize": -2.5, "title": null}},
    "y": {"field": "b", "type": "quantitative", "axis": {"orient": "right", "values": [-45,-35,-30,-25,-15,-10,-5,5,10,15,25,30,35,45], "labels": false, "tickSize": -2.5, "title": null}}}}
 ]},
{"width": 265, "height": 194, "transform": [{"filter": "datum.p == 2"}], "resolve": {"axis": {"x": "independent", "y": "independent"}},
 "layer": [
  {"mark": {"type": "rule", "strokeWidth": 1.5, "opacity": 0.8, "clip": true},
   "encoding": {"x": {"field": "hx", "type": "quantitative", "scale": {"domain": [260.5, 364], "nice": false, "zero": false}, "axis": {"orient": "bottom", "values": [280,300,320,340,360], "labels": false, "title": null}},
    "x2": {"field": "hX"},
    "y": {"field": "hy", "type": "quantitative", "scale": {"domain": [-48, 48], "nice": false, "zero": false}, "axis": {"orient": "left", "values": [-40,-20,0,20,40], "labels": false, "title": null}},
    "y2": {"field": "hY"},
    "color": {"datum": "Hu et al. 2022", "type": "nominal", "scale": {"domain": ["Hu et al. 2022", "ASteCA"], "range": ["#f0938a", "#36c6aa"]}, "legend": {"title": null}}}},
  {"mark": {"type": "rule", "strokeWidth": 1.5, "opacity": 0.8, "clip": true},
   "encoding": {"x": {"field": "ax", "type": "quantitative", "axis": {"orient": "top", "values": [280,300,320,340,360], "labels": false, "title": null}},
    "x2": {"field": "aX"},
    "y": {"field": "ay", "type": "quantitative", "axis": {"orient": "right", "values": [-40,-20,0,20,40], "labels": false, "title": null}},
    "y2": {"field": "aY"},
    "color": {"datum": "ASteCA", "type": "nominal", "scale": {"domain": ["Hu et al. 2022", "ASteCA"], "range": ["#f0938a", "#36c6aa"]}, "legend": {"title": null}}}},
  {"mark": {"type": "circle", "size": 10, "color": "#2b2b2b", "opacity": 0.9, "clip": true},
   "encoding": {"x": {"field": "l", "type": "quantitative", "axis": {"orient": "bottom", "values": [265,270,275,285,290,295,305,310,315,325,330,335,345,350,355], "labels": false, "tickSize": -2.5, "title": null}},
    "y": {"field": "b", "type": "quantitative", "axis": {"orient": "left", "values": [-45,-35,-30,-25,-15,-10,-5,5,10,15,25,30,35,45], "labels": false, "tickSize": -2.5, "title": null}}}},
  {"mark": {"type": "circle", "opacity": 0},
   "encoding": {"x": {"field": "l", "type": "quantitative", "axis": {"orient": "top", "values": [265,270,275,285,290,295,305,310,315,325,330,335,345,350,355], "labels": false, "tickSize": -2.5, "title": null}},
    "y": {"field": "b", "type": "quantitative", "axis": {"orient": "right", "values": [-45,-35,-30,-25,-15,-10,-5,5,10,15,25,30,35,45], "labels": false, "tickSize": -2.5, "title": null}}}},
  {"data": {"values": [{}]}, "mark": {"type": "rect", "fill": "white", "stroke": "#cfcfcf", "strokeWidth": 1, "cornerRadius": 5},
   "encoding": {"x": {"datum": 301.1, "type": "quantitative", "axis": null}, "x2": {"datum": 356.6}, "y": {"datum": 39.1, "type": "quantitative", "axis": null}, "y2": {"datum": 22.3}}},
  {"data": {"values": [{}]}, "mark": {"type": "text", "text": "Age [Myr] < 30", "font": "DejaVu Serif", "fontStyle": "italic", "fontWeight": 400, "fontSize": 15.5, "color": "#222", "align": "center", "baseline": "middle"},
   "encoding": {"x": {"datum": 328.9, "type": "quantitative", "axis": null}, "y": {"datum": 30.7, "type": "quantitative", "axis": null}}}
 ]},
{"width": 272, "height": 194, "transform": [{"filter": "datum.p == 3"}], "resolve": {"axis": {"x": "independent", "y": "independent"}},
 "layer": [
  {"mark": {"type": "rule", "strokeWidth": 1.5, "opacity": 0.8, "clip": true},
   "encoding": {"x": {"field": "hx", "type": "quantitative", "scale": {"domain": [170.6, 277.3], "nice": false, "zero": false}, "axis": {"orient": "bottom", "values": [180,200,220,240,260], "labels": false, "title": null}},
    "x2": {"field": "hX"},
    "y": {"field": "hy", "type": "quantitative", "scale": {"domain": [-48, 48], "nice": false, "zero": false}, "axis": {"orient": "left", "values": [-40,-20,0,20,40], "title": "b [deg]"}},
    "y2": {"field": "hY"},
    "color": {"datum": "Hu et al. 2022", "type": "nominal", "scale": {"domain": ["Hu et al. 2022", "ASteCA"], "range": ["#f0938a", "#36c6aa"]}, "legend": {"title": null}}}},
  {"mark": {"type": "rule", "strokeWidth": 1.5, "opacity": 0.8, "clip": true},
   "encoding": {"x": {"field": "ax", "type": "quantitative", "axis": {"orient": "top", "values": [180,200,220,240,260], "labels": false, "title": null}},
    "x2": {"field": "aX"},
    "y": {"field": "ay", "type": "quantitative", "axis": {"orient": "right", "values": [-40,-20,0,20,40], "labels": false, "title": null}},
    "y2": {"field": "aY"},
    "color": {"datum": "ASteCA", "type": "nominal", "scale": {"domain": ["Hu et al. 2022", "ASteCA"], "range": ["#f0938a", "#36c6aa"]}, "legend": {"title": null}}}},
  {"mark": {"type": "circle", "size": 10, "color": "#2b2b2b", "opacity": 0.9, "clip": true},
   "encoding": {"x": {"field": "l", "type": "quantitative", "axis": {"orient": "bottom", "values": [175,185,190,195,205,210,215,225,230,235,245,250,255,265,270,275], "labels": false, "tickSize": -2.5, "title": null}},
    "y": {"field": "b", "type": "quantitative", "axis": {"orient": "left", "values": [-45,-35,-30,-25,-15,-10,-5,5,10,15,25,30,35,45], "labels": false, "tickSize": -2.5, "title": null}}}},
  {"mark": {"type": "circle", "opacity": 0},
   "encoding": {"x": {"field": "l", "type": "quantitative", "axis": {"orient": "top", "values": [175,185,190,195,205,210,215,225,230,235,245,250,255,265,270,275], "labels": false, "tickSize": -2.5, "title": null}},
    "y": {"field": "b", "type": "quantitative", "axis": {"orient": "right", "values": [-45,-35,-30,-25,-15,-10,-5,5,10,15,25,30,35,45], "labels": false, "tickSize": -2.5, "title": null}}}}
 ]},
{"width": 265, "height": 194, "transform": [{"filter": "datum.p == 4"}], "resolve": {"axis": {"x": "independent", "y": "independent"}},
 "layer": [
  {"mark": {"type": "rule", "strokeWidth": 1.5, "opacity": 0.8, "clip": true},
   "encoding": {"x": {"field": "hx", "type": "quantitative", "scale": {"domain": [260.5, 364], "nice": false, "zero": false}, "axis": {"orient": "bottom", "values": [280,300,320,340,360], "labels": false, "title": null}},
    "x2": {"field": "hX"},
    "y": {"field": "hy", "type": "quantitative", "scale": {"domain": [-48, 48], "nice": false, "zero": false}, "axis": {"orient": "left", "values": [-40,-20,0,20,40], "labels": false, "title": null}},
    "y2": {"field": "hY"},
    "color": {"datum": "Hu et al. 2022", "type": "nominal", "scale": {"domain": ["Hu et al. 2022", "ASteCA"], "range": ["#f0938a", "#36c6aa"]}, "legend": {"title": null}}}},
  {"mark": {"type": "rule", "strokeWidth": 1.5, "opacity": 0.8, "clip": true},
   "encoding": {"x": {"field": "ax", "type": "quantitative", "axis": {"orient": "top", "values": [280,300,320,340,360], "labels": false, "title": null}},
    "x2": {"field": "aX"},
    "y": {"field": "ay", "type": "quantitative", "axis": {"orient": "right", "values": [-40,-20,0,20,40], "labels": false, "title": null}},
    "y2": {"field": "aY"},
    "color": {"datum": "ASteCA", "type": "nominal", "scale": {"domain": ["Hu et al. 2022", "ASteCA"], "range": ["#f0938a", "#36c6aa"]}, "legend": {"title": null}}}},
  {"mark": {"type": "circle", "size": 10, "color": "#2b2b2b", "opacity": 0.9, "clip": true},
   "encoding": {"x": {"field": "l", "type": "quantitative", "axis": {"orient": "bottom", "values": [265,270,275,285,290,295,305,310,315,325,330,335,345,350,355], "labels": false, "tickSize": -2.5, "title": null}},
    "y": {"field": "b", "type": "quantitative", "axis": {"orient": "left", "values": [-45,-35,-30,-25,-15,-10,-5,5,10,15,25,30,35,45], "labels": false, "tickSize": -2.5, "title": null}}}},
  {"mark": {"type": "circle", "opacity": 0},
   "encoding": {"x": {"field": "l", "type": "quantitative", "axis": {"orient": "top", "values": [265,270,275,285,290,295,305,310,315,325,330,335,345,350,355], "labels": false, "tickSize": -2.5, "title": null}},
    "y": {"field": "b", "type": "quantitative", "axis": {"orient": "right", "values": [-45,-35,-30,-25,-15,-10,-5,5,10,15,25,30,35,45], "labels": false, "tickSize": -2.5, "title": null}}}},
  {"data": {"values": [{}]}, "mark": {"type": "rect", "fill": "white", "stroke": "#cfcfcf", "strokeWidth": 1, "cornerRadius": 5},
   "encoding": {"x": {"datum": 291, "type": "quantitative", "axis": null}, "x2": {"datum": 359.3}, "y": {"datum": 38.7, "type": "quantitative", "axis": null}, "y2": {"datum": 21.9}}},
  {"data": {"values": [{}]}, "mark": {"type": "text", "text": "30 ≤ Age [Myr] < 150", "font": "DejaVu Serif", "fontStyle": "italic", "fontWeight": 400, "fontSize": 15.5, "color": "#222", "align": "center", "baseline": "middle"},
   "encoding": {"x": {"datum": 325.2, "type": "quantitative", "axis": null}, "y": {"datum": 30.3, "type": "quantitative", "axis": null}}}
 ]},
{"width": 272, "height": 194, "transform": [{"filter": "datum.p == 5"}], "resolve": {"axis": {"x": "independent", "y": "independent"}},
 "layer": [
  {"mark": {"type": "rule", "strokeWidth": 1.5, "opacity": 0.8, "clip": true},
   "encoding": {"x": {"field": "hx", "type": "quantitative", "scale": {"domain": [170.6, 277.3], "nice": false, "zero": false}, "axis": {"orient": "bottom", "values": [180,200,220,240,260], "labels": false, "title": null}},
    "x2": {"field": "hX"},
    "y": {"field": "hy", "type": "quantitative", "scale": {"domain": [-48, 48], "nice": false, "zero": false}, "axis": {"orient": "left", "values": [-40,-20,0,20,40], "title": "b [deg]"}},
    "y2": {"field": "hY"},
    "color": {"datum": "Hu et al. 2022", "type": "nominal", "scale": {"domain": ["Hu et al. 2022", "ASteCA"], "range": ["#f0938a", "#36c6aa"]}, "legend": {"title": null}}}},
  {"mark": {"type": "rule", "strokeWidth": 1.5, "opacity": 0.8, "clip": true},
   "encoding": {"x": {"field": "ax", "type": "quantitative", "axis": {"orient": "top", "values": [180,200,220,240,260], "labels": false, "title": null}},
    "x2": {"field": "aX"},
    "y": {"field": "ay", "type": "quantitative", "axis": {"orient": "right", "values": [-40,-20,0,20,40], "labels": false, "title": null}},
    "y2": {"field": "aY"},
    "color": {"datum": "ASteCA", "type": "nominal", "scale": {"domain": ["Hu et al. 2022", "ASteCA"], "range": ["#f0938a", "#36c6aa"]}, "legend": {"title": null}}}},
  {"mark": {"type": "circle", "size": 10, "color": "#2b2b2b", "opacity": 0.9, "clip": true},
   "encoding": {"x": {"field": "l", "type": "quantitative", "axis": {"orient": "bottom", "values": [175,185,190,195,205,210,215,225,230,235,245,250,255,265,270,275], "labels": false, "tickSize": -2.5, "title": null}},
    "y": {"field": "b", "type": "quantitative", "axis": {"orient": "left", "values": [-45,-35,-30,-25,-15,-10,-5,5,10,15,25,30,35,45], "labels": false, "tickSize": -2.5, "title": null}}}},
  {"mark": {"type": "circle", "opacity": 0},
   "encoding": {"x": {"field": "l", "type": "quantitative", "axis": {"orient": "top", "values": [175,185,190,195,205,210,215,225,230,235,245,250,255,265,270,275], "labels": false, "tickSize": -2.5, "title": null}},
    "y": {"field": "b", "type": "quantitative", "axis": {"orient": "right", "values": [-45,-35,-30,-25,-15,-10,-5,5,10,15,25,30,35,45], "labels": false, "tickSize": -2.5, "title": null}}}}
 ]},
{"width": 265, "height": 194, "transform": [{"filter": "datum.p == 6"}], "resolve": {"axis": {"x": "independent", "y": "independent"}},
 "layer": [
  {"mark": {"type": "rule", "strokeWidth": 1.5, "opacity": 0.8, "clip": true},
   "encoding": {"x": {"field": "hx", "type": "quantitative", "scale": {"domain": [260.5, 364], "nice": false, "zero": false}, "axis": {"orient": "bottom", "values": [280,300,320,340,360], "labels": false, "title": null}},
    "x2": {"field": "hX"},
    "y": {"field": "hy", "type": "quantitative", "scale": {"domain": [-48, 48], "nice": false, "zero": false}, "axis": {"orient": "left", "values": [-40,-20,0,20,40], "labels": false, "title": null}},
    "y2": {"field": "hY"},
    "color": {"datum": "Hu et al. 2022", "type": "nominal", "scale": {"domain": ["Hu et al. 2022", "ASteCA"], "range": ["#f0938a", "#36c6aa"]}, "legend": {"title": null}}}},
  {"mark": {"type": "rule", "strokeWidth": 1.5, "opacity": 0.8, "clip": true},
   "encoding": {"x": {"field": "ax", "type": "quantitative", "axis": {"orient": "top", "values": [280,300,320,340,360], "labels": false, "title": null}},
    "x2": {"field": "aX"},
    "y": {"field": "ay", "type": "quantitative", "axis": {"orient": "right", "values": [-40,-20,0,20,40], "labels": false, "title": null}},
    "y2": {"field": "aY"},
    "color": {"datum": "ASteCA", "type": "nominal", "scale": {"domain": ["Hu et al. 2022", "ASteCA"], "range": ["#f0938a", "#36c6aa"]}, "legend": {"title": null}}}},
  {"mark": {"type": "circle", "size": 10, "color": "#2b2b2b", "opacity": 0.9, "clip": true},
   "encoding": {"x": {"field": "l", "type": "quantitative", "axis": {"orient": "bottom", "values": [265,270,275,285,290,295,305,310,315,325,330,335,345,350,355], "labels": false, "tickSize": -2.5, "title": null}},
    "y": {"field": "b", "type": "quantitative", "axis": {"orient": "left", "values": [-45,-35,-30,-25,-15,-10,-5,5,10,15,25,30,35,45], "labels": false, "tickSize": -2.5, "title": null}}}},
  {"mark": {"type": "circle", "opacity": 0},
   "encoding": {"x": {"field": "l", "type": "quantitative", "axis": {"orient": "top", "values": [265,270,275,285,290,295,305,310,315,325,330,335,345,350,355], "labels": false, "tickSize": -2.5, "title": null}},
    "y": {"field": "b", "type": "quantitative", "axis": {"orient": "right", "values": [-45,-35,-30,-25,-15,-10,-5,5,10,15,25,30,35,45], "labels": false, "tickSize": -2.5, "title": null}}}},
  {"data": {"values": [{}]}, "mark": {"type": "rect", "fill": "white", "stroke": "#cfcfcf", "strokeWidth": 1, "cornerRadius": 5},
   "encoding": {"x": {"datum": 287, "type": "quantitative", "axis": null}, "x2": {"datum": 360.1}, "y": {"datum": 38.7, "type": "quantitative", "axis": null}, "y2": {"datum": 21.9}}},
  {"data": {"values": [{}]}, "mark": {"type": "text", "text": "150 ≤ Age [Myr] < 500", "font": "DejaVu Serif", "fontStyle": "italic", "fontWeight": 400, "fontSize": 15.5, "color": "#222", "align": "center", "baseline": "middle"},
   "encoding": {"x": {"datum": 323.6, "type": "quantitative", "axis": null}, "y": {"datum": 30.3, "type": "quantitative", "axis": null}}}
 ]},
{"width": 272, "height": 194, "transform": [{"filter": "datum.p == 7"}], "resolve": {"axis": {"x": "independent", "y": "independent"}},
 "layer": [
  {"mark": {"type": "rule", "strokeWidth": 1.5, "opacity": 0.8, "clip": true},
   "encoding": {"x": {"field": "hx", "type": "quantitative", "scale": {"domain": [170.6, 277.3], "nice": false, "zero": false}, "axis": {"orient": "bottom", "values": [180,200,220,240,260], "title": "l [deg]"}},
    "x2": {"field": "hX"},
    "y": {"field": "hy", "type": "quantitative", "scale": {"domain": [-48, 48], "nice": false, "zero": false}, "axis": {"orient": "left", "values": [-40,-20,0,20,40], "title": "b [deg]"}},
    "y2": {"field": "hY"},
    "color": {"datum": "Hu et al. 2022", "type": "nominal", "scale": {"domain": ["Hu et al. 2022", "ASteCA"], "range": ["#f0938a", "#36c6aa"]}, "legend": {"title": null}}}},
  {"mark": {"type": "rule", "strokeWidth": 1.5, "opacity": 0.8, "clip": true},
   "encoding": {"x": {"field": "ax", "type": "quantitative", "axis": {"orient": "top", "values": [180,200,220,240,260], "labels": false, "title": null}},
    "x2": {"field": "aX"},
    "y": {"field": "ay", "type": "quantitative", "axis": {"orient": "right", "values": [-40,-20,0,20,40], "labels": false, "title": null}},
    "y2": {"field": "aY"},
    "color": {"datum": "ASteCA", "type": "nominal", "scale": {"domain": ["Hu et al. 2022", "ASteCA"], "range": ["#f0938a", "#36c6aa"]}, "legend": {"title": null}}}},
  {"mark": {"type": "circle", "size": 10, "color": "#2b2b2b", "opacity": 0.9, "clip": true},
   "encoding": {"x": {"field": "l", "type": "quantitative", "axis": {"orient": "bottom", "values": [175,185,190,195,205,210,215,225,230,235,245,250,255,265,270,275], "labels": false, "tickSize": -2.5, "title": null}},
    "y": {"field": "b", "type": "quantitative", "axis": {"orient": "left", "values": [-45,-35,-30,-25,-15,-10,-5,5,10,15,25,30,35,45], "labels": false, "tickSize": -2.5, "title": null}}}},
  {"mark": {"type": "circle", "opacity": 0},
   "encoding": {"x": {"field": "l", "type": "quantitative", "axis": {"orient": "top", "values": [175,185,190,195,205,210,215,225,230,235,245,250,255,265,270,275], "labels": false, "tickSize": -2.5, "title": null}},
    "y": {"field": "b", "type": "quantitative", "axis": {"orient": "right", "values": [-45,-35,-30,-25,-15,-10,-5,5,10,15,25,30,35,45], "labels": false, "tickSize": -2.5, "title": null}}}}
 ]},
{"width": 265, "height": 194, "transform": [{"filter": "datum.p == 8"}], "resolve": {"axis": {"x": "independent", "y": "independent"}},
 "layer": [
  {"mark": {"type": "rule", "strokeWidth": 1.5, "opacity": 0.8, "clip": true},
   "encoding": {"x": {"field": "hx", "type": "quantitative", "scale": {"domain": [260.5, 364], "nice": false, "zero": false}, "axis": {"orient": "bottom", "values": [280,300,320,340,360], "title": "l [deg]"}},
    "x2": {"field": "hX"},
    "y": {"field": "hy", "type": "quantitative", "scale": {"domain": [-48, 48], "nice": false, "zero": false}, "axis": {"orient": "left", "values": [-40,-20,0,20,40], "labels": false, "title": null}},
    "y2": {"field": "hY"},
    "color": {"datum": "Hu et al. 2022", "type": "nominal", "scale": {"domain": ["Hu et al. 2022", "ASteCA"], "range": ["#f0938a", "#36c6aa"]}, "legend": {"title": null}}}},
  {"mark": {"type": "rule", "strokeWidth": 1.5, "opacity": 0.8, "clip": true},
   "encoding": {"x": {"field": "ax", "type": "quantitative", "axis": {"orient": "top", "values": [280,300,320,340,360], "labels": false, "title": null}},
    "x2": {"field": "aX"},
    "y": {"field": "ay", "type": "quantitative", "axis": {"orient": "right", "values": [-40,-20,0,20,40], "labels": false, "title": null}},
    "y2": {"field": "aY"},
    "color": {"datum": "ASteCA", "type": "nominal", "scale": {"domain": ["Hu et al. 2022", "ASteCA"], "range": ["#f0938a", "#36c6aa"]}, "legend": {"title": null}}}},
  {"mark": {"type": "circle", "size": 10, "color": "#2b2b2b", "opacity": 0.9, "clip": true},
   "encoding": {"x": {"field": "l", "type": "quantitative", "axis": {"orient": "bottom", "values": [265,270,275,285,290,295,305,310,315,325,330,335,345,350,355], "labels": false, "tickSize": -2.5, "title": null}},
    "y": {"field": "b", "type": "quantitative", "axis": {"orient": "left", "values": [-45,-35,-30,-25,-15,-10,-5,5,10,15,25,30,35,45], "labels": false, "tickSize": -2.5, "title": null}}}},
  {"mark": {"type": "circle", "opacity": 0},
   "encoding": {"x": {"field": "l", "type": "quantitative", "axis": {"orient": "top", "values": [265,270,275,285,290,295,305,310,315,325,330,335,345,350,355], "labels": false, "tickSize": -2.5, "title": null}},
    "y": {"field": "b", "type": "quantitative", "axis": {"orient": "right", "values": [-45,-35,-30,-25,-15,-10,-5,5,10,15,25,30,35,45], "labels": false, "tickSize": -2.5, "title": null}}}},
  {"data": {"values": [{}]}, "mark": {"type": "rect", "fill": "white", "stroke": "#cfcfcf", "strokeWidth": 1, "cornerRadius": 5},
   "encoding": {"x": {"datum": 299, "type": "quantitative", "axis": null}, "x2": {"datum": 359.6}, "y": {"datum": 38.9, "type": "quantitative", "axis": null}, "y2": {"datum": 23}}},
  {"data": {"values": [{}]}, "mark": {"type": "text", "text": "Age [Myr] > 500", "font": "DejaVu Serif", "fontStyle": "italic", "fontWeight": 400, "fontSize": 15.5, "color": "#222", "align": "center", "baseline": "middle"},
   "encoding": {"x": {"datum": 329.3, "type": "quantitative", "axis": null}, "y": {"datum": 31, "type": "quantitative", "axis": null}}}
 ]}
]
}
